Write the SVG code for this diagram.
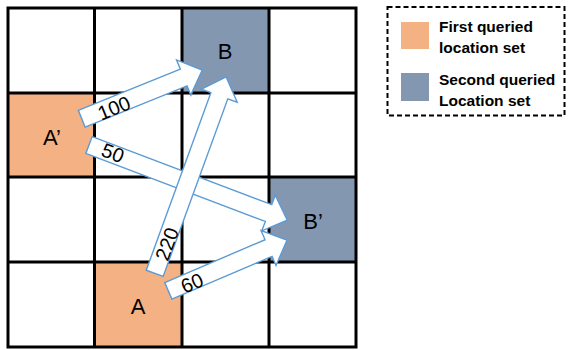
<svg xmlns="http://www.w3.org/2000/svg" width="569" height="350" viewBox="0 0 569 350">
<style>
.first{fill:#F4B183}
.second{fill:#8497B0}
.grid{stroke:#000;stroke-width:3;fill:none}
.arrow{fill:#fff;stroke:#5B9BD5;stroke-width:1.4;stroke-linejoin:miter}
.cell{font-family:"Liberation Sans",Arial,sans-serif;font-size:22px;fill:#000;text-anchor:middle;dominant-baseline:central}
.w{font-family:"Liberation Sans",Arial,sans-serif;font-size:20px;fill:#000;text-anchor:middle;dominant-baseline:central}
.leg{font-family:"Liberation Sans",Arial,sans-serif;font-size:15.5px;font-weight:bold;fill:#000}
</style>
<rect width="569" height="350" fill="#fff"/>
<g id="cells">
<rect class="second" x="182" y="8" width="87" height="85"/>
<rect class="first" x="8" y="93" width="86.5" height="84"/>
<rect class="second" x="269" y="177" width="87" height="85"/>
<rect class="first" x="94.5" y="262" width="87.5" height="85"/>
</g>
<g id="grid" class="grid">
<rect x="8" y="8" width="348" height="339"/>
<path d="M94.5,8V347M182,8V347M269,8V347M8,93H356M8,177H356M8,262H356"/>
</g>
<g id="node-B"><text class="cell" x="225" y="51">B</text></g>
<g id="node-A-prime"><text class="cell" x="52" y="137">A’</text></g>
<g id="node-B-prime"><text class="cell" x="313" y="221">B’</text></g>
<g id="node-A"><text class="cell" x="138" y="306">A</text></g>
<g id="connectors">
<path class="arrow" transform="translate(81.7,118.7) rotate(-22)" d="M0,-9H110V-19L130,0L110,19V9H0Z"/>
<path class="arrow" transform="translate(89,145) rotate(20.75)" d="M0,-9H192V-19L212,0L192,19V9H0Z"/>
<path class="arrow" transform="translate(168.3,290.8) rotate(-23.1)" d="M0,-9H109V-19L129,0L109,19V9H0Z"/>
<path class="arrow" transform="translate(154.7,273.3) rotate(-70)" d="M0,-9H189V-19L209,0L189,19V9H0Z"/>
<text class="w" transform="translate(114,108) rotate(-22)">100</text>
<text class="w" transform="translate(113,153) rotate(20.75)">50</text>
<text class="w" transform="translate(167,244) rotate(-70)">220</text>
<text class="w" transform="translate(192,283) rotate(-23.1)">60</text>
</g>
<g id="legend">
<rect x="387.5" y="7" width="177" height="108.5" fill="none" stroke="#000" stroke-width="2" stroke-dasharray="5,3"/>
<rect class="first" x="401" y="22" width="28" height="27"/>
<rect class="second" x="401" y="73" width="28" height="28"/>
<text class="leg" x="439" y="32">First queried</text>
<text class="leg" x="439" y="53">location set</text>
<text class="leg" x="439" y="85">Second queried</text>
<text class="leg" x="439" y="106">Location set</text>
</g>
</svg>
